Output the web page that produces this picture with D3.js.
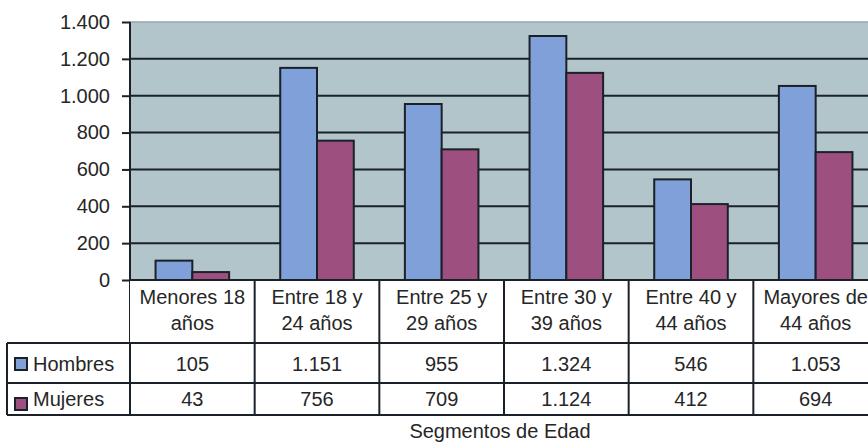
<!DOCTYPE html>
<html>
<head>
<meta charset="utf-8">
<script src="https://cdn.jsdelivr.net/npm/d3@7"></script>
<style>
  body { margin: 0; background: #fff; }
  svg text { font-family: "Liberation Sans", Arial, sans-serif; fill: #262626; }
</style>
</head>
<body>
<script>
// data
const categories = ['Menores 18 años', 'Entre 18 y 24 años', 'Entre 25 y 29 años', 'Entre 30 y 39 años', 'Entre 40 y 44 años', 'Mayores de 44 años'];
const categoryLines = [['Menores 18', 'años'], ['Entre 18 y', '24 años'], ['Entre 25 y', '29 años'], ['Entre 30 y', '39 años'], ['Entre 40 y', '44 años'], ['Mayores de', '44 años']];
const seriesNames = ['Hombres', 'Mujeres'];
const hombres = [105, 1151, 955, 1324, 546, 1053];
const mujeres = [43, 756, 709, 1124, 412, 694];
const yTicks = [0, 200, 400, 600, 800, 1000, 1200, 1400];
const axisTitle = 'Segmentos de Edad';

const colors = ['#7fa0d8', '#9d5080'];
const ink = '#1b2129';

const W = 868, H = 443;
const plot = { left: 130, right: 878, top: 22, bottom: 280 };
const table = { left: 7, header: 343, row1: 383, row2: 415 };
const fontSize = '20px';

const es = d3.formatLocale({ decimal: ',', thousands: '.', grouping: [3], currency: ['', ' €'] });
const fmt = es.format(',d');

const rows = categories.map((c, i) => ({ cat: c, values: [hombres[i], mujeres[i]] }));

const svg = d3.select('body').append('svg')
  .attr('width', W)
  .attr('height', H);

const x = d3.scaleBand()
  .domain(categories)
  .range([plot.left, plot.right])
  .padding(0);

const bw = x.bandwidth();
const groupGap = bw * 0.205;
const xs = d3.scaleBand()
  .domain(seriesNames)
  .range([groupGap, bw - groupGap])
  .padding(0);

const y = d3.scaleLinear()
  .domain([0, 1400])
  .range([plot.bottom, plot.top]);

// plot background
svg.append('rect')
  .attr('x', plot.left)
  .attr('y', plot.top)
  .attr('width', plot.right - plot.left)
  .attr('height', plot.bottom - plot.top)
  .attr('fill', '#b1c5ca')
  .attr('stroke', '#95a7ab')
  .attr('stroke-width', 1.5);

// gridlines
svg.append('g')
  .selectAll('line')
  .data(yTicks.filter(t => t > 0 && t < 1400))
  .join('line')
  .attr('x1', plot.left)
  .attr('x2', plot.right)
  .attr('y1', d => y(d))
  .attr('y2', d => y(d))
  .attr('stroke', ink)
  .attr('stroke-width', 2);

// bars
const groups = svg.append('g')
  .selectAll('g')
  .data(rows)
  .join('g')
  .attr('transform', d => `translate(${x(d.cat)},0)`);

groups.selectAll('rect')
  .data(d => d.values.map((v, i) => ({ name: seriesNames[i], value: v, i })))
  .join('rect')
  .attr('x', d => xs(d.name))
  .attr('y', d => y(d.value))
  .attr('width', xs.bandwidth())
  .attr('height', d => y(0) - y(d.value))
  .attr('fill', d => colors[d.i])
  .attr('stroke', ink)
  .attr('stroke-width', 2);

// y axis
const yAxis = svg.append('g')
  .attr('transform', `translate(${plot.left},0)`)
  .call(d3.axisLeft(y).tickValues(yTicks).tickFormat(fmt).tickSize(8).tickPadding(12));
yAxis.select('.domain').remove();
yAxis.selectAll('.tick line').attr('stroke', ink).attr('stroke-width', 2);
yAxis.selectAll('.tick text')
  .style('font-size', fontSize)
  .attr('fill', '#262626');

// axis line (continues down as table divider)
svg.append('line')
  .attr('x1', plot.left).attr('x2', plot.left)
  .attr('y1', plot.top).attr('y2', table.row2)
  .attr('stroke', ink).attr('stroke-width', 2);

// data table
const tbl = svg.append('g');

tbl.append('rect')
  .attr('x', plot.left)
  .attr('y', plot.bottom)
  .attr('width', plot.right - plot.left)
  .attr('height', table.header - plot.bottom)
  .attr('fill', '#fff');

// horizontal rules
[[plot.left, plot.bottom], [table.left, table.header], [table.left, table.row1], [table.left, table.row2]]
  .forEach(([x0, yy]) => {
    tbl.append('line')
      .attr('x1', x0).attr('x2', plot.right)
      .attr('y1', yy).attr('y2', yy)
      .attr('stroke', ink).attr('stroke-width', 2);
  });

// vertical rules
tbl.append('line')
  .attr('x1', table.left).attr('x2', table.left)
  .attr('y1', table.header).attr('y2', table.row2)
  .attr('stroke', ink).attr('stroke-width', 2);

tbl.selectAll('line.col')
  .data(categories)
  .join('line')
  .attr('class', 'col')
  .attr('x1', d => x(d) + bw)
  .attr('x2', d => x(d) + bw)
  .attr('y1', plot.bottom)
  .attr('y2', table.row2)
  .attr('stroke', ink)
  .attr('stroke-width', 2);

// header labels
const head = tbl.selectAll('text.head')
  .data(categories)
  .join('text')
  .attr('class', 'head')
  .attr('x', d => x(d) + bw / 2)
  .attr('y', 304)
  .attr('text-anchor', 'middle')
  .style('font-size', fontSize);

head.selectAll('tspan')
  .data((d, i) => categoryLines[i])
  .join('tspan')
  .attr('x', function () { return this.parentNode.getAttribute('x'); })
  .attr('dy', (d, i) => i === 0 ? 0 : 26)
  .text(d => d);

// row legend + values
const rowBase = [371, 406];
const rowTop = [table.header, table.row1];
seriesNames.forEach((name, si) => {
  const vals = si === 0 ? hombres : mujeres;
  tbl.append('rect')
    .attr('x', 15)
    .attr('y', rowTop[si] + 15)
    .attr('width', 12)
    .attr('height', 12)
    .attr('fill', colors[si])
    .attr('stroke', ink)
    .attr('stroke-width', 2);
  tbl.append('text')
    .attr('x', 33)
    .attr('y', rowBase[si])
    .style('font-size', fontSize)
    .text(name);
  tbl.selectAll('text.v' + si)
    .data(categories)
    .join('text')
    .attr('class', 'v' + si)
    .attr('x', d => x(d) + bw / 2)
    .attr('y', rowBase[si])
    .attr('text-anchor', 'middle')
    .style('font-size', fontSize)
    .text((d, i) => fmt(vals[i]));
});

// category axis title
svg.append('text')
  .attr('x', 500)
  .attr('y', 438)
  .attr('text-anchor', 'middle')
  .style('font-size', fontSize)
  .text(axisTitle);
</script>
</body>
</html>
